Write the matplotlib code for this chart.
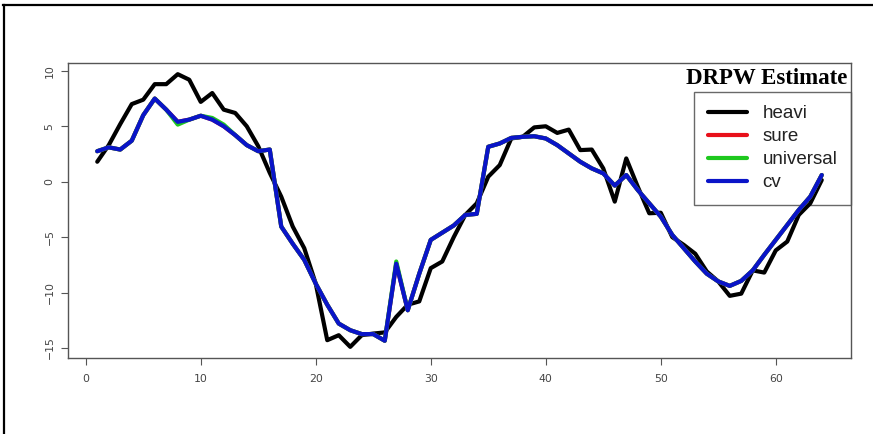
import numpy as np
import matplotlib.pyplot as plt
from matplotlib.lines import Line2D

# positions 1..64
n = np.arange(1, 65)

heavi = [1.8, 3.3, 5.2, 7.0, 7.4, 8.8, 8.8, 9.7, 9.2, 7.2,
         8.0, 6.5, 6.2, 5.0, 3.2, 0.8, -1.35, -4.05, -6.0, -9.2,
         -14.3, -13.85, -14.9, -13.85, -13.7, -13.6, -12.2, -11.1, -10.8, -7.8,
         -7.2, -5.0, -3.0, -1.95, 0.45, 1.5, 3.9, 4.05, 4.9, 5.0,
         4.4, 4.7, 2.85, 2.9, 1.2, -1.8, 2.1, -0.45, -2.85, -2.8,
         -5.0, -5.7, -6.5, -8.1, -9.0, -10.3, -10.1, -8.0, -8.2, -6.2,
         -5.4, -3.0, -1.95, 0.15]

cv = [2.75, 3.1, 2.9, 3.7, 6.0, 7.5, 6.5, 5.4, 5.6, 5.95,
      5.6, 5.0, 4.2, 3.3, 2.75, 2.9, -4.05, -5.6, -7.05, -9.2,
      -11.1, -12.8, -13.4, -13.75, -13.75, -14.35, -7.4, -11.6, -8.3, -5.25,
      -4.6, -3.95, -3.0, -2.9, 3.15, 3.45, 3.95, 4.05, 4.1, 3.9,
      3.3, 2.55, 1.8, 1.2, 0.75, -0.35, 0.6, -0.75, -1.95, -3.15,
      -4.8, -6.0, -7.2, -8.3, -9.0, -9.4, -8.95, -8.0, -6.6, -5.25,
      -3.9, -2.55, -1.35, 0.6]

sure = list(cv)

universal = list(cv)
universal[7] = 5.15
universal[10] = 5.75
universal[11] = 5.15
universal[26] = -7.2

series = [("heavi", heavi, "black"),
          ("sure", sure, "#e8101a"),
          ("universal", universal, "#1ec81e"),
          ("cv", cv, "#0a14c8")]

fig = plt.figure(figsize=(8.73, 4.34), dpi=100)
ax = fig.add_axes([0.0782, 0.1758, 0.8963, 0.6783])

for name, vals, col in series:
    ax.plot(n, vals, color=col, lw=3.0, solid_joinstyle="round",
            solid_capstyle="round", label=name, zorder=3)

ax.set_xlim(-1.52, 66.52)
ax.set_ylim(-15.88, 10.68)
ax.set_xticks(np.arange(0, 61, 10))
ax.set_yticks(np.arange(-15, 11, 5))
ax.tick_params(axis="both", direction="out", length=5, width=0.8,
               color="#555555", labelcolor="#444444", labelsize=7.8)
ax.tick_params(axis="x", pad=7)
ax.tick_params(axis="y", pad=5)
for lab in ax.get_yticklabels():
    lab.set_rotation(90)
    lab.set_va("center")
for sp in ax.spines.values():
    sp.set_color("#555555")
    sp.set_linewidth(1.0)

ax.text(0.9955, 0.947, "DRPW Estimate", transform=ax.transAxes,
        ha="right", va="center", fontsize=16.5, fontweight="bold",
        family="Liberation Serif")

# transparent legend box, curves show through it
leg = ax.legend(loc="upper right", bbox_to_anchor=(1.0, 0.9035),
                frameon=True, fancybox=False, facecolor="none",
                edgecolor="#444444", borderaxespad=0,
                handlelength=2.1, handletextpad=0.8, labelspacing=0.31,
                borderpad=0.72, prop={"family": "Liberation Sans", "size": 13.5})
leg.set_zorder(2)
leg.get_frame().set_linewidth(1.0)
for h in leg.get_lines():
    h.set_linewidth(3.0)
for t in leg.get_texts():
    t.set_color("#222222")

# outer frame lines (top and left)
fig.add_artist(Line2D([0.004, 1.0], [1 - 5 / 434, 1 - 5 / 434],
                      transform=fig.transFigure, color="black", lw=1.6))
fig.add_artist(Line2D([0.0046, 0.0046], [0.0, 1 - 5 / 434],
                      transform=fig.transFigure, color="black", lw=1.6))

fig.savefig("out.png", dpi=100)
